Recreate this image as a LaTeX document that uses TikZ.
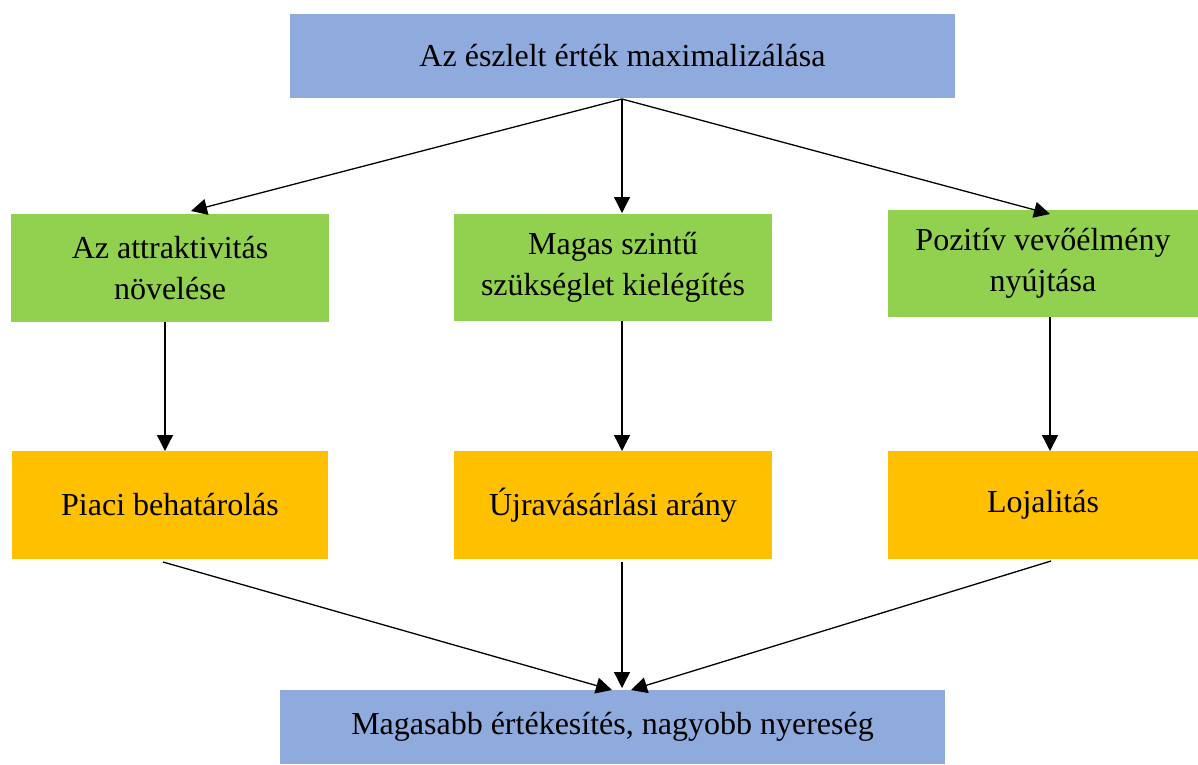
\documentclass[tikz,border=0pt]{standalone}
\usepackage{fontspec}
\setmainfont{Liberation Serif}
\usetikzlibrary{arrows.meta}
\definecolor{boxblue}{HTML}{8FAADC}
\definecolor{boxgreen}{HTML}{92D050}
\definecolor{boxorange}{HTML}{FFC000}
\begin{document}
\begin{tikzpicture}[x=1pt,y=-1pt,
  box/.style={rectangle, inner sep=0pt, align=center, font=\fontsize{32}{41}\selectfont, text=black},
  bluebox/.style={box, fill=boxblue},
  greenbox/.style={box, fill=boxgreen},
  orangebox/.style={box, fill=boxorange},
  link/.style={draw=black, line width=1.3pt, -{Triangle[length=16pt,width=16pt]}}
]
\useasboundingbox (0,0) rectangle (1198,764);

% boxes
\node[bluebox, minimum width=665pt, minimum height=84pt] (top) at (622.5,56) {Az észlelt érték maximalizálása};

\node[greenbox, minimum width=318pt, minimum height=108pt] (g1) at (170,268) {Az attraktivitás\\növelése};
\node[greenbox, minimum width=318pt, minimum height=107pt] (g2) at (613,267.5) {Magas szintű\\szükséglet kielégítés};
\node[greenbox, minimum width=310pt, minimum height=107pt] (g3) at (1043,263.5) {Pozitív vevőélmény\\nyújtása};

\node[orangebox, minimum width=316pt, minimum height=108pt] (o1) at (170,505) {Piaci behatárolás};
\node[orangebox, minimum width=318pt, minimum height=108pt] (o2) at (613,505) {Újravásárlási arány};
\node[orangebox, minimum width=310pt, minimum height=108pt] (o3) at (1043,505) {Lojalitás};

\node[bluebox, minimum width=665pt, minimum height=74pt] (bot) at (612.5,727) {Magasabb értékesítés, nagyobb nyereség};

% connector end points
\coordinate (ts) at (622,99);
\coordinate (t1) at (191,211);
\coordinate (t2) at (622,213);
\coordinate (t3) at (1050,214);

\coordinate (g1s) at (165,322);
\coordinate (g1e) at (165,451);
\coordinate (g2s) at (622,321);
\coordinate (g2e) at (622,451);
\coordinate (g3s) at (1050,317);
\coordinate (g3e) at (1050,451);

\coordinate (o1s) at (163,562);
\coordinate (o2s) at (622,562);
\coordinate (o3s) at (1051,561);
\coordinate (b1) at (612,690);
\coordinate (b2) at (622,688);
\coordinate (b3) at (631,690);

% connectors
\draw[link] (ts) -- (t1);
\draw[link] (ts) -- (t2);
\draw[link] (ts) -- (t3);

\draw[link] (g1s) -- (g1e);
\draw[link] (g2s) -- (g2e);
\draw[link] (g3s) -- (g3e);

\draw[link] (o1s) -- (b1);
\draw[link] (o2s) -- (b2);
\draw[link] (o3s) -- (b3);
\end{tikzpicture}
\end{document}
